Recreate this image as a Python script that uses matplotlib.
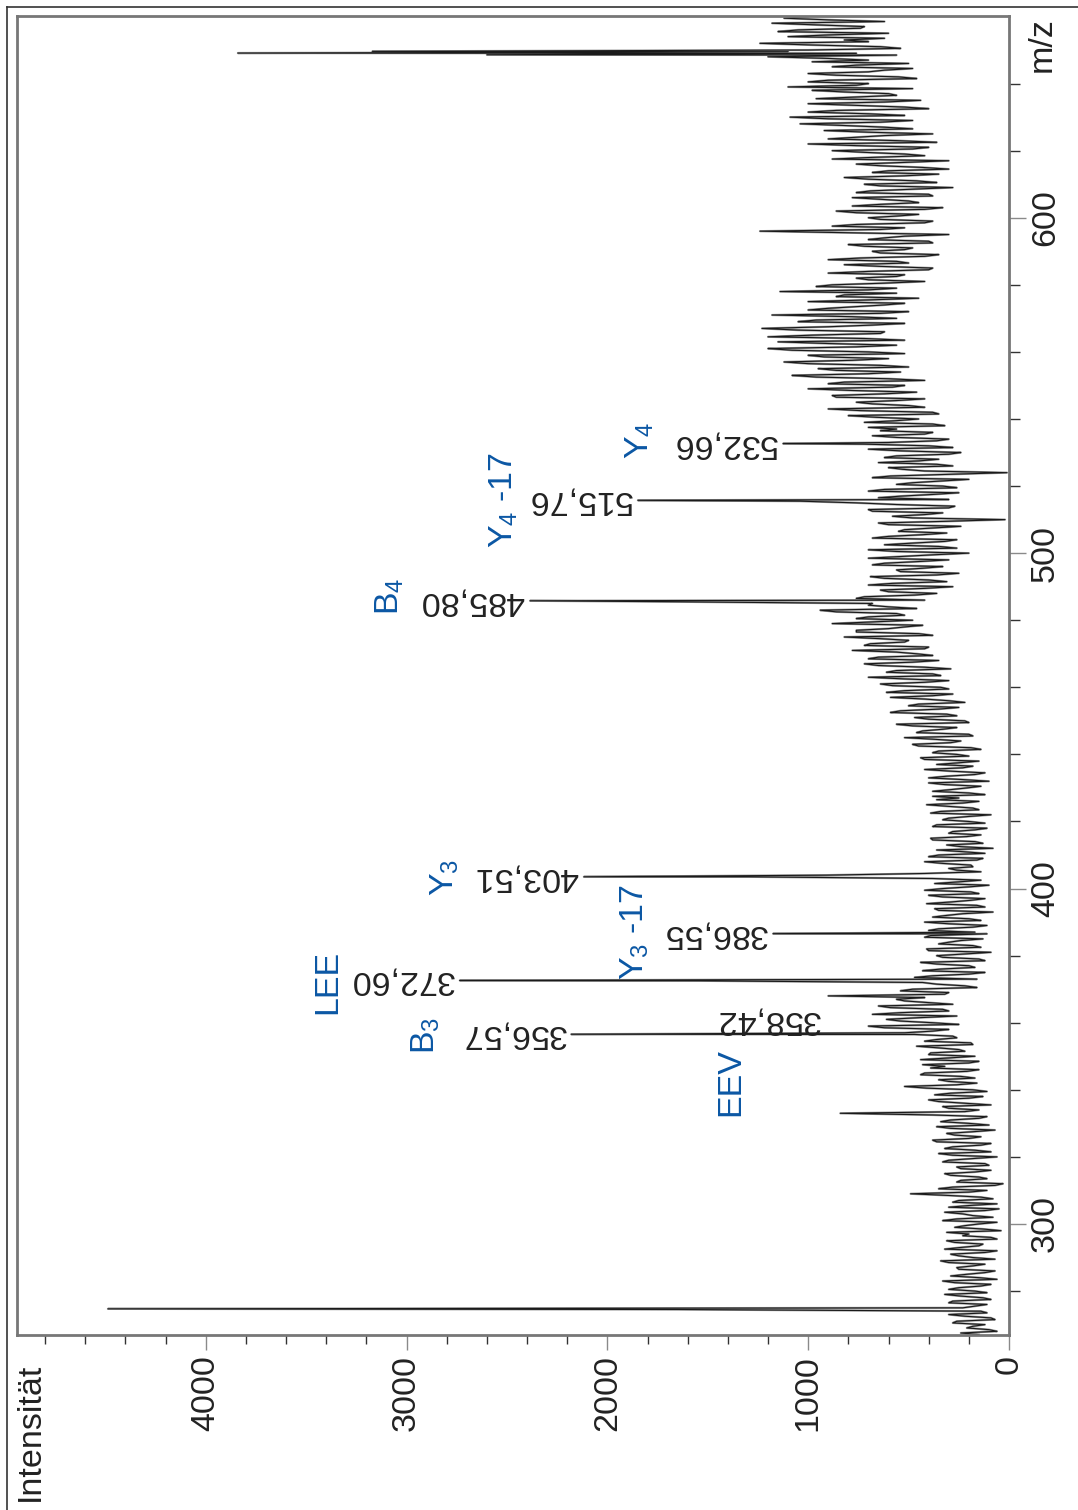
import numpy as np
import matplotlib
matplotlib.use("Agg")
import matplotlib.pyplot as plt
from matplotlib.ticker import MultipleLocator
from matplotlib.lines import Line2D

plt.rcParams["font.family"] = ["Liberation Sans", "DejaVu Sans"]
plt.rcParams["mathtext.fontset"] = "custom"
plt.rcParams["mathtext.rm"] = "Liberation Sans"
plt.rcParams["mathtext.it"] = "Liberation Sans:italic"

# noise of the profile spectrum, one value per m/z unit from 267
noise_start = 267
noise_int = [
    150, 60, 210, 120, 260, 90, 300, 140, 230, 110,      # 267-276
    280, 130, 320, 170, 250, 90, 330, 150, 210, 70,      # 277-286
    260, 120, 340, 180, 290, 60, 240, 130, 310, 90,      # 287-296
    200, 40, 270, 150, 330, 80, 230, 120, 300, 60,       # 297-306
    250, 140, 490, 110, 280, 30, 240, 150, 320, 90,      # 307-316
    260, 120, 300, 60, 350, 170, 280, 90, 380, 140,      # 317-326
    310, 70, 360, 200, 290, 110, 840, 150, 330, 220,     # 327-336
    400, 130, 290, 180, 520, 160, 350, 240, 420, 150,    # 337-346
    320, 200, 440, 170, 390, 250, 460, 190, 360, 280,    # 347-356
    520, 300, 700, 380, 610, 260, 540, 330, 650, 400,    # 357-366
    560, 900, 300, 480, 220, 430, 160, 380, 120, 340,    # 367-376
    200, 440, 150, 360, 90, 410, 180, 300, 130, 390,     # 377-386
    170, 350, 110, 420, 200, 310, 80, 370, 160, 290,     # 387-396
    120, 400, 190, 330, 100, 250, 380, 910, 140, 300,    # 397-406
    190, 420, 130, 350, 230, 80, 310, 170, 390, 140,     # 407-416
    280, 110, 360, 200, 300, 90, 340, 180, 410, 150,     # 417-426
    250, 120, 380, 210, 320, 100, 400, 170, 290, 230,    # 427-436
    360, 150, 440, 260, 350, 190, 480, 240, 520, 200,    # 437-446
    430, 260, 560, 220, 470, 310, 540, 250, 450, 300,    # 447-456
    590, 280, 520, 340, 640, 300, 700, 380, 560, 420,    # 457-466
    720, 350, 650, 460, 780, 400, 690, 500, 820, 450,    # 467-476
    760, 520, 880, 480, 700, 560, 940, 600, 680, 420,    # 477-486
    720, 360, 640, 280, 580, 400, 690, 250, 560, 330,    # 487-496
    620, 300, 540, 200, 700, 350, 480, 260, 600, 310,    # 497-506
    520, 240, 650, 20, 580, 330, 700, 270, 760, 300,     # 507-516
    540, 250, 620, 330, 480, 200, 590, 10, 530, 280,     # 517-526
    650, 350, 560, 240, 700, 400, 600, 300, 680, 380,    # 527-536
    560, 320, 720, 450, 800, 380, 900, 500, 760, 420,    # 537-546
    880, 460, 1000, 520, 820, 600, 1080, 540, 950, 640,  # 547-556
    1120, 600, 1000, 700, 1200, 560, 1150, 720, 980, 620,  # 557-566
    1230, 680, 1050, 560, 1180, 500, 900, 620, 1000, 450,  # 567-576
    820, 1140, 560, 880, 420, 760, 520, 700, 380, 820,   # 577-586
    560, 740, 350, 680, 480, 800, 400, 620, 300, 1240,   # 587-596
    520, 760, 380, 700, 450, 860, 330, 640, 500, 780,    # 597-606
    400, 690, 280, 720, 460, 820, 350, 600, 430, 760,    # 607-616
    300, 680, 520, 880, 400, 1000, 560, 760, 380, 920,   # 617-626
    620, 1040, 480, 1090, 700, 860, 520, 1000, 440, 760,  # 627-636
    600, 980, 1100, 700, 900, 550, 1000, 620, 880, 500,  # 637-646
    700, 1200, 760, 1000, 640, 1240, 820, 1100, 600, 1050,  # 647-656
    720, 1180, 900, 1000,                                # 657-660
]
# noise in between, at m/z 267.5, 268.5, ...
half_start = 267.5
half_int = [
    240, 100, 180, 280, 70, 220, 110, 1650, 170, 300,    # 267.5-276.5
    90, 240, 110, 300, 140, 270, 60, 290, 120, 250,
    180, 300, 70, 250, 120, 320, 150, 270, 60, 230,
    310, 130, 220, 60, 260, 180, 320, 50, 200, 280,
    80, 300, 200, 350, 70, 260, 110, 290, 170, 240,
    100, 330, 180, 280, 90, 320, 140, 360, 200, 270,
    180, 290, 100, 340, 150, 380, 220, 300, 90, 350,
    200, 370, 110, 410, 260, 300, 170, 440, 210, 390,
    430, 150, 300, 400, 220, 350, 180, 420, 260, 470,
    380, 620, 250, 540, 450, 680, 300, 590, 280, 520,
    420, 320, 540, 160, 360, 1540, 470, 200, 430, 170,   # 367.5-376.5
    360, 120, 330, 220, 400, 140, 350, 240, 420, 110,
    400, 180, 300, 140, 380, 230, 350, 120, 410, 190,
    330, 150, 420, 200, 370, 140, 1290, 420, 260, 180,   # 397.5-406.5
    330, 160, 400, 120, 360, 240, 130, 380, 210, 300,
    170, 380, 120, 330, 200, 390, 150, 300, 230, 360,
    380, 200, 290, 140, 400, 230, 310, 120, 420, 180,
    250, 420, 200, 380, 140, 450, 290, 370, 180, 460,
    330, 480, 200, 400, 260, 590, 350, 500, 220, 420,
    380, 610, 300, 580, 420, 520, 340, 610, 290, 650,
    480, 700, 380, 560, 420, 720, 520, 640, 380, 760,
    600, 430, 680, 760, 520, 860, 460, 700, 1640, 760,   # 477.5-486.5
    470, 600, 420, 700, 310, 620, 360, 540, 430, 680,
    450, 700, 380, 560, 260, 620, 320, 680, 430, 550,
    380, 600, 310, 480, 420, 680, 300, 560, 1040, 650,   # 507.5-516.5
    380, 700, 260, 560, 340, 680, 300, 420, 600, 360,
    450, 620, 300, 540, 280, 720, 360, 560, 420, 640,
    700, 380, 560, 660, 350, 740, 420, 680, 560, 860,
    620, 780, 580, 900, 420, 960, 700, 860, 500, 1000,
    780, 920, 520, 1080, 760, 900, 520, 1200, 640, 1050,
    900, 520, 960, 780, 640, 1000, 760, 520, 700, 860,
    560, 700, 960, 620, 700, 560, 900, 400, 640, 500,
    900, 420, 640, 520, 720, 380, 700, 520, 760, 640,
    880, 420, 640, 560, 760, 420, 780, 450, 640, 380,
    760, 480, 640, 360, 700, 520, 680, 300, 640, 520,
    880, 420, 720, 480, 760, 360, 900, 620, 700, 480,
    820, 640, 900, 520, 1000, 400, 760, 620, 960, 560,
    820, 480, 760, 1000, 460, 860, 700, 480, 760, 980,
    900, 560, 1100, 540, 980, 700, 620, 900, 1150, 740,
    960, 620, 1120,                                      # 657.5-659.5
]

# peak tips (m/z, intensity)
peak_mz = [274.7, 356.57, 372.60, 386.55, 403.51, 485.80, 515.76,
           532.66, 648.6, 649.1, 649.6]
peak_int = [4487, 2180, 2735, 1175, 2117, 2385, 1848, 1125, 2600, 3840, 3170]

# labelled peaks
label_mz = [356.57, 358.42, 372.60, 386.55, 403.51, 485.80, 515.76, 532.66]
label_int = [2180, 915, 2735, 1175, 2117, 2385, 1848, 1125]
label_txt = ["356,57", "358,42", "372,60", "386,55", "403,51", "485,80",
             "515,76", "532,66"]

# fragment assignments
ion_txt = [r"Y$_4$", r"Y$_4$ -17", r"B$_4$", r"Y$_3$", r"Y$_3$ -17", "LEE",
           r"B$_3$", "EEV"]
ion_mz = [533.7, 515.9, 487.2, 403.2, 387.1, 372.2, 356.1, 342.3]
ion_int = [1838, 2515, 3083, 2809, 1862, 3391, 2903, 1384]

mz = np.concatenate([noise_start + np.arange(len(noise_int)),
                     half_start + np.arange(len(half_int)), peak_mz])
inten = np.concatenate([noise_int, half_int, peak_int])
order = np.argsort(mz)
mz, inten = mz[order], inten[order]

W, H = 1078, 1510
fig = plt.figure(figsize=(W / 100, H / 100), dpi=100)
ax = fig.add_axes([17 / W, (H - 1335) / H, (1009 - 17) / W, (1335 - 15.5) / H])

ax.plot(inten, mz, color="#999999", lw=1.6)
ax.plot(inten, mz, color="#1a1a1a", lw=0.8)

ax.set_xlim(4940, 0)
ax.set_ylim(266.9, 660.3)

for m, i, t in zip(label_mz, label_int, label_txt):
    ym = m + (2.4 if t == "358,42" else 0)
    ax.text(i + 30, ym, t, rotation=180, rotation_mode="anchor",
            ha="left", va="center", fontsize=24.5, color="#222222")

for t, m, i in zip(ion_txt, ion_mz, ion_int):
    ax.text(i, m, t, rotation=90, ha="center", va="center",
            fontsize=24.5, color="#0b57a4")

for s in ax.spines.values():
    s.set_color("#777777")
    s.set_linewidth(2)

ax.xaxis.set_major_locator(MultipleLocator(1000))
ax.xaxis.set_minor_locator(MultipleLocator(200))
ax.yaxis.tick_right()
ax.set_yticks([300, 400, 500, 600])
ax.set_yticks([280, 320, 340, 360, 380, 420, 440, 460, 480, 520, 540, 560,
               580, 620, 640], minor=True)

ax.tick_params(axis="x", which="major", direction="out", length=10.8, width=1,
               color="#8a8a8a", pad=3.6, labelsize=24.5, labelcolor="#222222",
               labelrotation=90)
ax.tick_params(axis="x", which="minor", direction="out", length=6.5, width=1,
               color="#333333")
ax.tick_params(axis="y", which="major", direction="out", length=12.2, width=1,
               color="#8a8a8a", pad=2.9, labelsize=24.5, labelcolor="#222222",
               labelrotation=90)
ax.tick_params(axis="y", which="minor", direction="out", length=7.9, width=1,
               color="#333333")
for lab in ax.get_yticklabels():
    lab.set_va("center")

fig.text(30 / W, (H - 1432) / H, "Intensität", rotation=90, ha="center",
         va="center", fontsize=24.5, color="#222222")
fig.text(1042 / W, (H - 45) / H, "m/z", rotation=90, ha="center",
         va="center", fontsize=24.5, color="#222222")

# outer page frame
fig.add_artist(Line2D([7 / W, 1], [1 - 7 / H, 1 - 7 / H], color="#333333", lw=1.2))
fig.add_artist(Line2D([7 / W, 7 / W], [0, 1 - 7 / H], color="#333333", lw=1.2))

fig.savefig("out.png", dpi=100, facecolor="white")
